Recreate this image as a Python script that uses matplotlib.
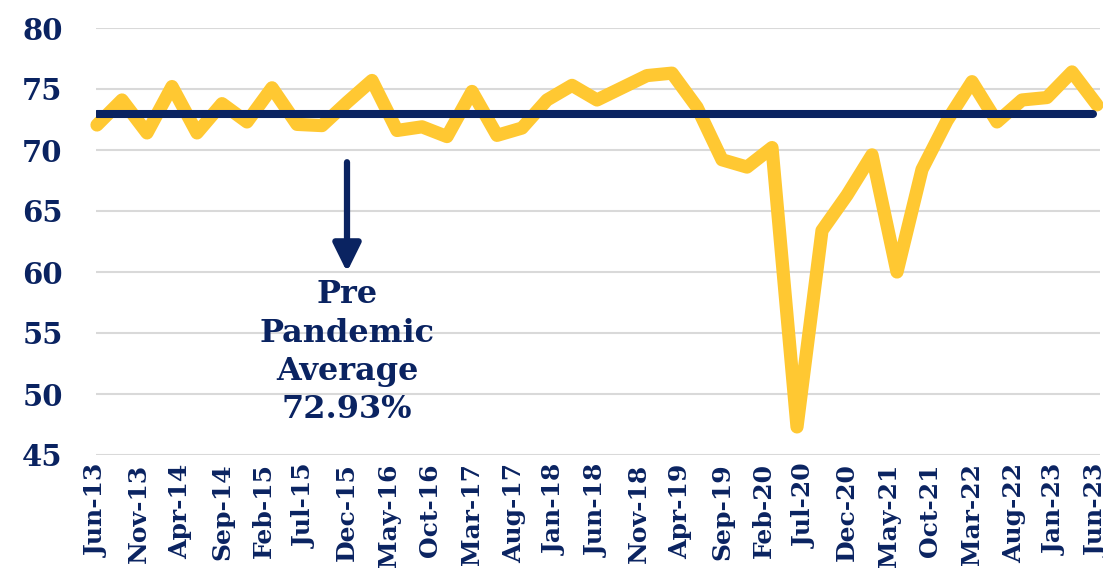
import numpy as np
import matplotlib
matplotlib.use('Agg')
import matplotlib.pyplot as plt

navy = '#0a2361'
gold = '#ffc832'

# quarterly readings, Jun-13 through Jun-23
values = [72.05, 74.1, 71.4, 75.2, 71.4, 73.8, 72.3, 75.1, 72.1, 72.0,
          73.9, 75.7, 71.6, 71.9, 71.1, 74.8, 71.2, 71.8, 74.1, 75.3,
          74.1, 75.1, 76.1, 76.3, 73.5, 69.2, 68.6, 70.2, 47.3, 63.4,
          66.3, 69.6, 60.0, 68.4, 72.4, 75.6, 72.3, 74.1, 74.3, 76.4,
          73.7]
months = np.arange(len(values)) * 3          # months since Jun-13

pre_pandemic_avg = 72.93

tick_labels = ['Jun-13', 'Nov-13', 'Apr-14', 'Sep-14', 'Feb-15', 'Jul-15',
               'Dec-15', 'May-16', 'Oct-16', 'Mar-17', 'Aug-17', 'Jan-18',
               'Jun-18', 'Nov-18', 'Apr-19', 'Sep-19', 'Feb-20', 'Jul-20',
               'Dec-20', 'May-21', 'Oct-21', 'Mar-22', 'Aug-22', 'Jan-23',
               'Jun-23']
tick_pos = np.arange(len(tick_labels)) * 5
y_ticks = [45, 50, 55, 60, 65, 70, 75, 80]

plt.rcParams['font.family'] = ['DejaVu Serif']
plt.rcParams['font.weight'] = 'bold'

fig = plt.figure(figsize=(11.03, 5.81), dpi=100)
ax = fig.add_axes([96/1103, 1 - 455/581, 1004/1103, 427/581])

ax.plot(months, values, color=gold, lw=9.5, solid_joinstyle='round',
        solid_capstyle='round', clip_on=False, zorder=3)
ax.plot([months[0], months[-1] - 0.5], [pre_pandemic_avg] * 2, color=navy,
        lw=5.8, solid_capstyle='round', zorder=4)

# arrow + label for the average
ax.annotate('', xy=(30, 60.0), xytext=(30, 69.0),
            arrowprops=dict(arrowstyle='-|>,head_length=0.85,head_width=0.42',
                            mutation_scale=20, lw=4.5, color=navy,
                            shrinkA=0, shrinkB=0))
ax.text(30, 59.4, 'Pre\nPandemic\nAverage\n%.2f%%' % pre_pandemic_avg,
        ha='center', va='top', fontsize=23, fontweight='heavy', color=navy,
        linespacing=1.3)

ax.set_xlim(-0.12, 120.36)
ax.set_ylim(45, 80)
ax.set_yticks(y_ticks)
ax.set_yticklabels([str(v) for v in y_ticks], fontsize=21, color=navy,
                   fontweight='bold')
ax.set_xticks(tick_pos)
ax.set_xticklabels(tick_labels, rotation=90, fontsize=18, color=navy,
                   fontweight='bold')
ax.tick_params(axis='both', length=0)
ax.tick_params(axis='y', pad=24)
ax.tick_params(axis='x', pad=6)
ax.grid(axis='y', color='#d9d9d9', lw=1.5)
ax.set_axisbelow(True)
for s in ax.spines.values():
    s.set_visible(False)

plt.savefig('out.png', dpi=100)
